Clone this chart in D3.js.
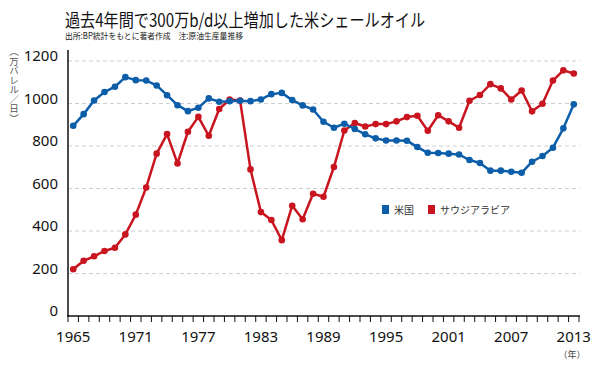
<!DOCTYPE html>
<html>
    <head>
        <meta charset="utf-8">
        <title></title>
        <script src="https://d3js.org/d3.v7.min.js"></script>
        <style>
            body { margin: 0; background: #fff; }
            text { font-family: "Noto Sans", "Noto Sans CJK JP", sans-serif; }
            .jp { font-family: "Noto Sans CJK JP", sans-serif; }
        </style>
    </head>
    <body>
       <div id="svgcontainer"></div>
       <script>
            var width = 600;
            var height = 372;

            var years = d3.range(1965, 2014);
            var usa = [895, 950, 1014, 1054, 1079, 1124, 1110, 1108, 1085, 1039,
                       992, 964, 980, 1024, 1008, 1011, 1013, 1011, 1019, 1044,
                       1050, 1016, 991, 972, 914, 886, 905, 880, 855, 836,
                       826, 826, 825, 795, 768, 767, 764, 760, 734, 720,
                       684, 684, 679, 674, 726, 753, 792, 883, 996];
            var saudi = [220, 260, 281, 306, 321, 384, 477, 605, 764, 856,
                         718, 867, 937, 848, 974, 1019, 1014, 690, 489, 452,
                         357, 519, 455, 575, 561, 701, 873, 908, 892, 903,
                         903, 916, 936, 942, 872, 945, 916, 886, 1013, 1040,
                         1091, 1071, 1019, 1061, 963, 999, 1108, 1156, 1141];
            var yTicks = [0, 200, 400, 600, 800, 1000, 1200];
            var xLabels = [1965, 1971, 1977, 1983, 1989, 1995, 2001, 2007, 2013];
            var seriesNames = ["米国", "サウジアラビア"];
            var colors = ["#0d5ea9", "#c9151f"];

            var svg = d3.select("#svgcontainer")
                .append("svg")
                .attr("width", width)
                .attr("height", height);

            var x = d3.scaleBand()
                .domain(years)
                .range([68, 579]);

            var y = d3.scaleLinear()
                .domain([0, 1200])
                .range([316, 61]);

            function cx(d) { return x(d) + x.bandwidth() / 2; }

            // title
            svg.append("text")
                .attr("class", "jp")
                .attr("x", 65)
                .attr("y", 26.5)
                .attr("font-size", 18)
                .attr("textLength", 360)
                .attr("lengthAdjust", "spacingAndGlyphs")
                .attr("fill", "#111")
                .text("過去4年間で300万b/d以上増加した米シェールオイル");

            svg.append("text")
                .attr("class", "jp")
                .attr("x", 65)
                .attr("y", 39)
                .attr("font-size", 8.5)
                .attr("textLength", 178)
                .attr("lengthAdjust", "spacingAndGlyphs")
                .attr("fill", "#222")
                .text("出所:BP統計をもとに著者作成　注:原油生産量推移");

            // grid
            svg.selectAll(".grid")
                .data(yTicks.filter(function(d){ return d > 0; }))
                .enter().append("line")
                .attr("x1", 68)
                .attr("x2", 580)
                .attr("y1", function(d){ return y(d); })
                .attr("y2", function(d){ return y(d); })
                .attr("stroke", "#cfcfcf")
                .attr("stroke-width", 1)
                .attr("stroke-dasharray", "4,3");

            svg.selectAll(".ylab")
                .data(yTicks)
                .enter().append("text")
                .attr("x", 58)
                .attr("y", function(d){ return y(d); })
                .attr("text-anchor", "end")
                .attr("font-size", 15)
                .attr("fill", "#111")
                .text(function(d){ return d; });

            // axes
            svg.append("line")
                .attr("x1", 68).attr("x2", 68)
                .attr("y1", 50).attr("y2", 316.5)
                .attr("stroke", "#111").attr("stroke-width", 1.5);

            svg.append("line")
                .attr("x1", 67.25).attr("x2", 580)
                .attr("y1", 316).attr("y2", 316)
                .attr("stroke", "#111").attr("stroke-width", 1.5);

            svg.selectAll(".xtick")
                .data(years.concat([2014]))
                .enter().append("line")
                .attr("x1", function(d){ return d == 2014 ? 579 : x(d); })
                .attr("x2", function(d){ return d == 2014 ? 579 : x(d); })
                .attr("y1", 316)
                .attr("y2", 322)
                .attr("stroke", "#111")
                .attr("stroke-width", 1);

            svg.selectAll(".xlab")
                .data(xLabels)
                .enter().append("text")
                .attr("x", cx)
                .attr("y", 342)
                .attr("text-anchor", "middle")
                .attr("font-size", 15)
                .attr("fill", "#111")
                .text(function(d){ return d; });

            svg.append("text")
                .attr("class", "jp")
                .attr("x", 572)
                .attr("y", 358)
                .attr("text-anchor", "middle")
                .attr("font-size", 9)
                .attr("fill", "#444")
                .text("（年）");

            svg.append("text")
                .attr("class", "jp")
                .attr("x", 14)
                .attr("y", 47)
                .attr("font-size", 9.5)
                .attr("fill", "#555")
                .style("writing-mode", "vertical-rl")
                .text("（万バレル／日）");

            // lines
            var line = d3.line()
                .x(function(d, i){ return cx(years[i]); })
                .y(function(d){ return y(d); });

            [saudi, usa].forEach(function(data) {
                var c = data === usa ? colors[0] : colors[1];
                svg.append("path")
                    .datum(data)
                    .attr("fill", "none")
                    .attr("stroke", c)
                    .attr("stroke-width", 2.5)
                    .attr("stroke-linejoin", "round")
                    .attr("d", line);
                svg.selectAll(null)
                    .data(data)
                    .enter().append("circle")
                    .attr("cx", function(d, i){ return cx(years[i]); })
                    .attr("cy", function(d){ return y(d); })
                    .attr("r", 3.3)
                    .attr("fill", c);
            });

            // legend
            var legendX = [382, 428];
            seriesNames.forEach(function(name, i) {
                svg.append("rect")
                    .attr("x", legendX[i])
                    .attr("y", 205)
                    .attr("width", 7)
                    .attr("height", 9)
                    .attr("fill", colors[i]);
                svg.append("text")
                    .attr("class", "jp")
                    .attr("x", legendX[i] + 12)
                    .attr("y", 213.5)
                    .attr("font-size", 10)
                    .attr("fill", "#333")
                    .text(name);
            });
       </script>
    </body>
</html>
